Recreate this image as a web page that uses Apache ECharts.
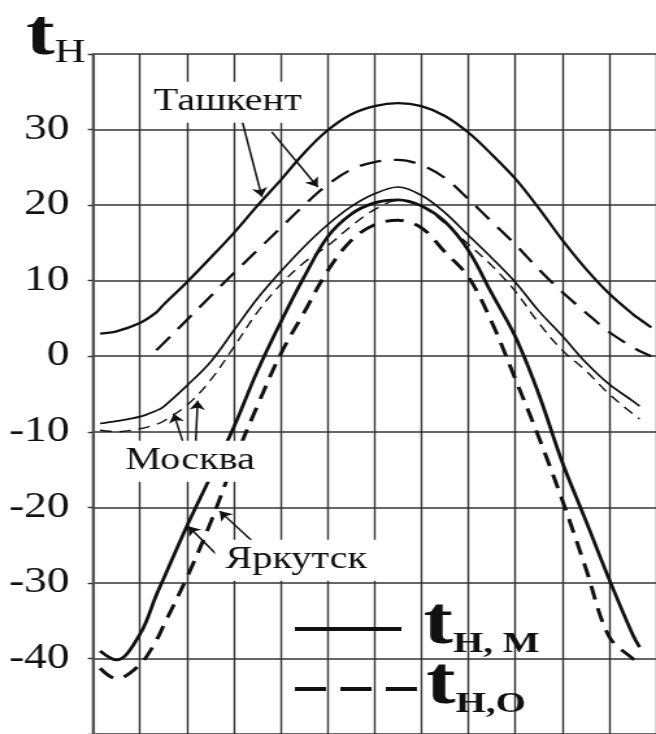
<!DOCTYPE html>
<html><head><meta charset="utf-8">
<script src="https://cdn.jsdelivr.net/npm/echarts@6/dist/echarts.min.js"></script>
<style>
html,body{margin:0;padding:0;background:#fff;overflow:hidden}
#wrap{width:656px;height:734px;overflow:hidden;position:relative;background:#fff}
#chart{width:505px;height:734px;transform:scaleX(1.299);transform-origin:0 0}
</style></head><body><div id="wrap"><div id="chart"></div></div>
<script>
// months along the x axis (0..12)
const months = [0.15,0.5,1,1.35,1.5,2,2.5,3,3.5,4,4.5,5,5.5,6,6.5,7,7.5,8,8.5,9,9.5,10,10.5,11,11.5,11.65,11.9];
// t_н,м (solid) and t_н,о (dashed) for each city
const tashkentM = [3.0,3.3,4.4,5.8,6.8,9.8,13.0,16.3,19.9,23.3,26.9,29.9,32.0,33.1,33.5,33.1,31.8,29.6,26.7,23.5,19.6,15.4,11.6,8.3,5.6,4.9,3.8];
const tashkentO = [null,null,null,0.8,1.7,4.8,7.9,11.0,14.0,17.0,20.0,22.7,24.7,25.7,26.0,25.3,23.6,20.8,17.8,14.8,11.5,8.5,5.8,3.2,1.2,0.7,0.0];
const moscowM   = [-8.9,-8.6,-8.0,-7.2,-6.7,-3.9,-0.8,3.4,7.6,11.2,14.5,17.4,19.8,21.5,22.4,21.3,19.0,16.0,13.0,9.8,6.0,2.7,-0.8,-3.7,-5.9,-6.6,null];
const moscowO   = [-9.8,-10.0,-9.6,-9.0,-8.6,-6.5,-3.2,1.2,5.8,9.5,12.4,14.6,17.2,19.4,20.6,19.8,17.6,14.8,12.0,8.6,4.4,0.8,-1.9,-5.0,-7.6,-8.3,null];
const irkutskM  = [-39.0,-40.2,-36.8,-31.6,-29.5,-22.5,-16.0,-9.4,-2.0,4.5,10.5,15.8,18.8,20.3,20.7,19.9,17.8,14.0,8.3,2.6,-5.0,-14.0,-21.7,-29.5,-36.8,-38.5,null];
const irkutskO  = [-41.3,-42.7,-40.8,-37.6,-35.7,-29.3,-22.1,-14.0,-6.6,0.3,5.8,11.3,15.3,17.4,18.0,17.0,13.8,10.5,4.5,-3.0,-10.7,-19.0,-28.0,-37.1,-40.0,-40.5,null];
// y tick labels
const yTicks = [30,20,10,0,-10,-20,-30,-40];
// annotation texts and arrows (data coordinates)
const noteTexts = ['Ташкент','Москва','Яркутск'];
const notePos = [[2.87,33.6],[2.07,-13.9],[4.33,-27.0]];
const arrowLines = [
  [[3.18,31.1],[3.6,21.1]],
  [[3.81,29.7],[4.79,22.4]],
  [[1.93,-11.6],[1.72,-7.6]],
  [[2.19,-11.3],[2.23,-5.9]],
  [[2.66,-26.4],[2.03,-22.5]],
  [[3.45,-24.8],[2.70,-20.5]]
];

const SERIF = '"Liberation Serif","Times New Roman",serif';
const INK = '#111';
function pairs(vals){ const out=[]; vals.forEach((v,i)=>{ if(v!==null) out.push([months[i],v]); }); return out; }
function curve(name, vals, width, dash){
  return {name, type:'line', data:pairs(vals), smooth:0.35, symbol:'none', silent:true,
    itemStyle:{color:INK}, lineStyle:{color:INK, width, type: dash || 'solid', cap:'butt'}, z:3};
}
const legendRich = {
  t:{fontFamily:SERIF, fontSize:68, fontWeight:'bold', color:INK, lineHeight:60, verticalAlign:'bottom'},
  s:{fontFamily:SERIF, fontSize:30, fontWeight:'bold', color:INK, lineHeight:60, verticalAlign:'bottom'}
};
function legendBox(name, top, width, label, pad, dash){
  return {data:[name], orient:'vertical', left:220, top, itemWidth:width, itemHeight:20,
    icon:'inherit', selectedMode:false, formatter:() => label,
    lineStyle:{color:INK, width:4, type:dash, cap:'butt'},
    itemStyle:{color:'rgba(0,0,0,0)', borderWidth:0},
    textStyle:{padding:[0,0,0,pad], rich:legendRich}};
}

const chart = echarts.init(document.getElementById('chart'), null, {renderer:'canvas'});
chart.setOption({
  animation:false,
  backgroundColor:'#fff',
  title:{text:'{t|t}{h|Н}', left:15, top:-1,
    textStyle:{rich:{
      t:{fontFamily:SERIF, fontSize:66, fontWeight:'bold', color:INK, verticalAlign:'bottom'},
      h:{fontFamily:SERIF, fontSize:33, fontWeight:'normal', color:INK, verticalAlign:'bottom'}
    }}},
  grid:{left:71.6, top:54, width:441.6, height:688},
  xAxis:{type:'value', min:0, max:12, interval:1,
    axisLabel:{show:false}, axisTick:{show:false}, axisLine:{show:false},
    splitLine:{show:true, lineStyle:{color:'#333', width:1.4}}},
  yAxis:{type:'value', min:-50, max:40, interval:10,
    axisLine:{show:true, lineStyle:{color:'#555', width:2.2}},
    axisTick:{show:true, length:4, lineStyle:{color:'#333', width:1.4}},
    axisLabel:{fontFamily:SERIF, fontSize:35, color:INK, margin:18,
      formatter:v => yTicks.includes(v) ? String(v) : ''},
    splitLine:{show:true, lineStyle:{color:'#333', width:1.6}}},
  legend:[
    legendBox('м', 586, 82, '{t|t}{s|Н, М}', 12, 'solid'),
    legendBox('о', 646, 96, '{t|t}{s|Н,О}', 0, [24,11])
  ],
  series:[
    curve('Ташкент м', tashkentM, 2.3),
    curve('Ташкент о', tashkentO, 2.3, [17,10]),
    curve('Москва м', moscowM, 1.7),
    curve('Москва о', moscowO, 1.4, [9,6]),
    curve('Иркутск м', irkutskM, 2.8),
    curve('Иркутск о', irkutskO, 3.0, [14,9]),
    {name:'м', type:'line', data:[], symbol:'none', itemStyle:{color:'rgba(0,0,0,0)'}, lineStyle:{color:INK, width:4, type:'solid'}},
    {name:'о', type:'line', data:[], symbol:'none', itemStyle:{color:'rgba(0,0,0,0)'}, lineStyle:{color:INK, width:4, type:[24,11]}},
    {name:'notes', type:'line', data:[], symbol:'none', z:10, silent:true,
      markLine:{silent:true, symbol:['none','arrow'], symbolSize:9, animation:false,
        lineStyle:{color:INK, width:1.5, type:'solid'}, label:{show:false},
        data:arrowLines.map(a => [{coord:a[0]},{coord:a[1]}])},
      markPoint:{silent:true, symbol:'rect', symbolSize:1, itemStyle:{color:'rgba(0,0,0,0)'}, animation:false,
        label:{show:true, position:'inside', formatter:p => p.name, fontFamily:SERIF, fontSize:31,
          color:INK, backgroundColor:'#fff', padding:[5,8]},
        data:noteTexts.map((t,i) => ({name:t, coord:notePos[i]}))}}
  ]
});
</script></body></html>
